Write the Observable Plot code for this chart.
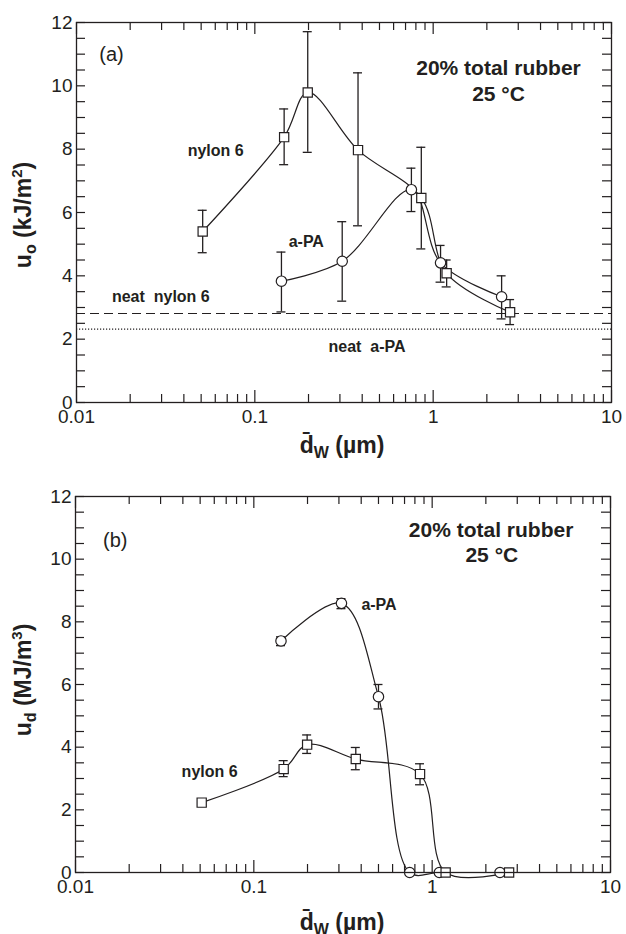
<!DOCTYPE html>
<html><head><meta charset="utf-8">
<script src="https://cdn.jsdelivr.net/npm/d3@7"></script>
<script src="https://cdn.jsdelivr.net/npm/@observablehq/plot@0.6"></script>
<style>
html,body{margin:0;padding:0;background:#fff;}
#chart{width:626px;height:934px;overflow:hidden;}
#chart svg{display:block;}
</style></head><body><div id="chart"></div>
<script>
// ---------- data ----------
// panel (a): notched impact energy u_o (kJ/m2)
const nylonA_x  = [0.051, 0.146, 0.198, 0.379, 0.858, 1.19, 2.70];
const nylonA_y  = [5.40, 8.38, 9.79, 7.97, 6.46, 4.08, 2.85];
const nylonA_lo = [4.73, 7.51, 7.90, 5.58, 4.85, 3.65, 2.46];
const nylonA_hi = [6.07, 9.27, 11.71, 10.41, 8.06, 4.50, 3.25];
const apaA_x  = [0.141, 0.309, 0.755, 1.10, 2.42];
const apaA_y  = [3.83, 4.46, 6.72, 4.41, 3.34];
const apaA_lo = [2.86, 3.20, 6.03, 3.80, 2.64];
const apaA_hi = [4.75, 5.71, 7.40, 4.96, 4.00];
const neatNylon = 2.81;
const neatAPA = 2.32;
// panel (b): u_d (MJ/m3)
const apaB_x  = [0.142, 0.310, 0.500, 0.748, 1.097, 2.40];
const apaB_y  = [7.39, 8.59, 5.61, 0.0, 0.0, 0.0];
const apaB_lo = [7.24, 8.42, 5.22, null, null, null];
const apaB_hi = [7.52, 8.74, 6.00, null, null, null];
const nylonB_x  = [0.051, 0.147, 0.199, 0.373, 0.855, 1.19, 2.70];
const nylonB_y  = [2.23, 3.30, 4.08, 3.62, 3.14, 0.0, 0.0];
const nylonB_lo = [null, 3.06, 3.80, 3.28, 2.80, null, null];
const nylonB_hi = [null, 3.57, 4.39, 3.99, 3.47, null, null];

// axes
const xTickLabels = [0.01, 0.1, 1, 10];
const xMinor = [0.02,0.03,0.04,0.05,0.06,0.07,0.08,0.09,0.2,0.3,0.4,0.5,0.6,0.7,0.8,0.9,2,3,4,5,6,7,8,9];
const yTickLabels = [0, 2, 4, 6, 8, 10, 12];
const yMinor = [0,0.5,1,1.5,2,2.5,3,3.5,4,4.5,5,5.5,6,6.5,7,7.5,8,8.5,9,9.5,10,10.5,11,11.5,12];

// annotation texts (data coordinates)
const notesA_plain = [{x: 0.0157, y: 10.98, t: "(a)"}];
const notesA_bold = [
  {x: 2.325, y: 10.55, t: "20% total rubber", s: 21},
  {x: 2.325, y: 9.74, t: "25 °C", s: 21},
  {x: 0.0603, y: 7.95, t: "nylon 6", s: 16},
  {x: 0.1943, y: 5.08, t: "a-PA", s: 16},
  {x: 0.0297, y: 3.35, t: "neat\u00a0 nylon 6", s: 16},
  {x: 0.4257, y: 1.75, t: "neat\u00a0 a-PA", s: 16}
];
const notesB_plain = [{x: 0.0167, y: 10.59, t: "(b)"}];
const notesB_bold = [
  {x: 2.14, y: 10.91, t: "20% total rubber", s: 21},
  {x: 2.16, y: 10.14, t: "25 °C", s: 21},
  {x: 0.5035, y: 8.54, t: "a-PA", s: 16},
  {x: 0.0565, y: 3.22, t: "nylon 6", s: 16}
];

// ---------- drawing ----------
const FONT = "'Liberation Sans', Arial, Helvetica, sans-serif";
const INK = "#231f20";

function rows(xs, ys, lo, hi) {
  return xs.map((x, i) => ({x, y: ys[i], lo: lo[i], hi: hi[i]}));
}

function panel(cfg) {
  const W = 626;
  const fh = cfg.height - cfg.mt - cfg.mb;
  const fw = W - cfg.ml - cfg.mr;
  const marks = [
    // inward ticks, all four sides
    Plot.tickX(xMinor, {x: d => d, insetTop: fh - 8, stroke: INK, strokeWidth: 1.2}),
    Plot.tickX(xMinor, {x: d => d, insetBottom: fh - 8, stroke: INK, strokeWidth: 1.2}),
    Plot.tickX(xTickLabels, {x: d => d, insetTop: fh - 12, stroke: INK, strokeWidth: 1.2}),
    Plot.tickX(xTickLabels, {x: d => d, insetBottom: fh - 12, stroke: INK, strokeWidth: 1.2}),
    Plot.tickY(yMinor, {y: d => d, insetRight: fw - 9, stroke: INK, strokeWidth: 1.2}),
    Plot.tickY(yMinor, {y: d => d, insetLeft: fw - 9, stroke: INK, strokeWidth: 1.2}),
    Plot.axisX(xTickLabels, {tickSize: 0, tickPadding: 7, fontSize: 19, tickFormat: d => String(d), label: null}),
    Plot.axisY(yTickLabels, {tickSize: 0, tickPadding: 4, fontSize: 19, tickFormat: d => String(d), label: null})
  ];
  if (cfg.neat) {
    marks.push(Plot.ruleY([cfg.neat[0]], {y: d => d, stroke: INK, strokeWidth: 1.2, strokeDasharray: "9,5"}));
    marks.push(Plot.ruleY([cfg.neat[1]], {y: d => d, stroke: INK, strokeWidth: 1.2, strokeDasharray: "1.2,1.8"}));
  }
  for (const s of cfg.series) {
    marks.push(Plot.line(s.data, {x: "x", y: "y", curve: "catmull-rom", stroke: INK, strokeWidth: 1.2}));
  }
  for (const s of cfg.series) {
    const e = s.data.filter(d => d.lo != null);
    marks.push(Plot.ruleX(e, {x: "x", y1: "lo", y2: "hi", stroke: INK, strokeWidth: 1.3}));
    marks.push(Plot.ruleY(e, {y: "lo", x1: "x", x2: "x", insetLeft: -4.5, insetRight: -4.5, stroke: INK, strokeWidth: 1.3}));
    marks.push(Plot.ruleY(e, {y: "hi", x1: "x", x2: "x", insetLeft: -4.5, insetRight: -4.5, stroke: INK, strokeWidth: 1.3}));
  }
  for (const s of cfg.series) {
    marks.push(Plot.dot(s.data, {x: "x", y: "y", symbol: s.symbol, r: s.r, fill: "white", stroke: INK, strokeWidth: 1.2}));
  }
  marks.push(Plot.text(cfg.plain, {x: "x", y: "y", text: "t", fontSize: 20, textAnchor: "middle", fill: INK}));
  marks.push(Plot.text(cfg.bold, {x: "x", y: "y", text: "t", fontSize: "s", fontWeight: "bold", textAnchor: "middle", fill: INK}));
  marks.push(Plot.frame({stroke: INK, strokeWidth: 1.3}));

  const svg = Plot.plot({
    width: W, height: cfg.height,
    marginTop: cfg.mt, marginBottom: cfg.mb, marginLeft: cfg.ml, marginRight: cfg.mr,
    x: {type: "log", domain: [0.01, 10]},
    y: {domain: [0, 12]},
    style: {fontFamily: FONT, fontSize: "19px", color: INK, background: "white"},
    marks
  });

  const g = d3.select(svg);
  // y-axis label with subscript / superscript
  const yl = g.append("text")
    .attr("transform", `translate(${cfg.ylx},${cfg.yly}) rotate(-90)`)
    .attr("text-anchor", "middle").attr("font-family", FONT)
    .attr("font-weight", "bold").attr("font-size", 23).attr("fill", INK);
  yl.append("tspan").text(cfg.ylabel[0]);
  yl.append("tspan").attr("font-size", 16).attr("dy", 5).text(cfg.ylabel[1]);
  yl.append("tspan").attr("dy", -5).text(cfg.ylabel[2]);
  yl.append("tspan").attr("font-size", 15).attr("dy", -9).text(cfg.ylabel[3]);
  yl.append("tspan").attr("dy", 9).text(cfg.ylabel[4]);
  // x-axis label
  const xl = g.append("text")
    .attr("x", cfg.xlx).attr("y", cfg.xly)
    .attr("text-anchor", "middle").attr("font-family", FONT)
    .attr("font-weight", "bold").attr("font-size", 23).attr("fill", INK);
  xl.append("tspan").text("d\u0304");
  xl.append("tspan").attr("font-size", 16).attr("dy", 5).text("W");
  xl.append("tspan").attr("dy", -5).text(" (\u00b5m)");
  return svg;
}

const chart = document.getElementById("chart");
chart.appendChild(panel({
  height: 466, mt: 22, mb: 64, ml: 76, mr: 15,
  series: [
    {data: rows(nylonA_x, nylonA_y, nylonA_lo, nylonA_hi), symbol: "square", r: 5.2},
    {data: rows(apaA_x, apaA_y, apaA_lo, apaA_hi), symbol: "circle", r: 5.2}
  ],
  neat: [neatNylon, neatAPA],
  plain: notesA_plain, bold: notesA_bold,
  ylabel: ["u", "o", " (kJ/m", "2", ")"], ylx: 31, yly: 215,
  xlx: 342, xly: 453
}));
chart.appendChild(panel({
  height: 468, mt: 30, mb: 62, ml: 75, mr: 16,
  series: [
    {data: rows(apaB_x, apaB_y, apaB_lo, apaB_hi), symbol: "circle", r: 5.2},
    {data: rows(nylonB_x, nylonB_y, nylonB_lo, nylonB_hi), symbol: "square", r: 5.2}
  ],
  neat: null,
  plain: notesB_plain, bold: notesB_bold,
  ylabel: ["u", "d", " (MJ/m", "3", ")"], ylx: 31, yly: 214,
  xlx: 342, xly: 464
}));
</script></body></html>
